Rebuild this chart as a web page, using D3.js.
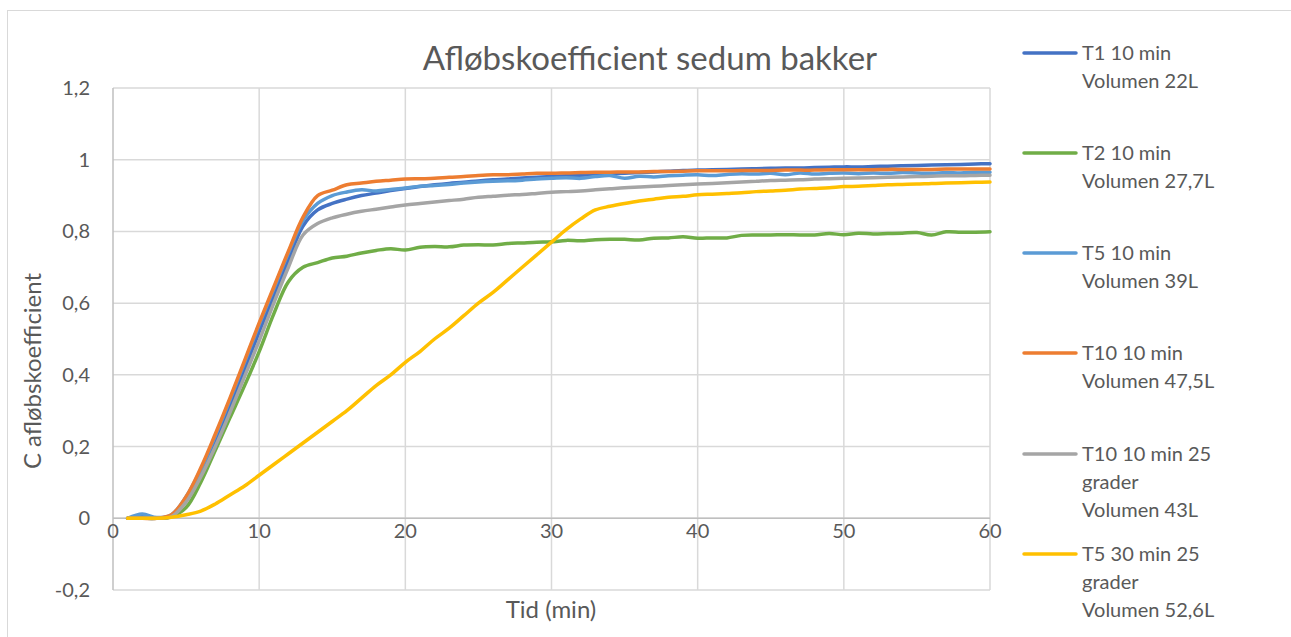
<!DOCTYPE html>
<html>
<head>
<meta charset="utf-8">
<script src="https://cdn.jsdelivr.net/npm/d3@7"></script>
<style>
  body { margin: 0; background: #fff; }
  text { font-family: Lato, "Open Sans", sans-serif; fill: #595959; }
</style>
</head>
<body>
<svg id="chart" width="1291" height="637"></svg>
<script>
// minutes
var minutes = [1,2,3,4,5,6,7,8,9,10,11,12,13,14,15,16,17,18,19,20,
  21,22,23,24,25,26,27,28,29,30,31,32,33,34,35,36,37,38,39,40,
  41,42,43,44,45,46,47,48,49,50,51,52,53,54,55,56,57,58,59,60];

var t1 = [0,0.005,0,0.005,0.05,0.12,0.21,0.31,0.415,0.52,0.62,0.72,0.815,0.86,0.878,0.89,0.9,0.907,0.914,0.92,
  0.925,0.93,0.934,0.937,0.941,0.944,0.946,0.949,0.951,0.953,0.955,0.957,0.959,0.961,0.962,0.964,0.966,0.968,0.97,0.971,
  0.972,0.973,0.974,0.975,0.976,0.977,0.977,0.978,0.979,0.98,0.98,0.981,0.982,0.983,0.984,0.985,0.986,0.987,0.988,0.989];

var t2 = [0,0,0,0.005,0.03,0.1,0.19,0.28,0.37,0.465,0.57,0.66,0.7,0.713,0.726,0.731,0.74,0.747,0.752,0.748,
  0.756,0.758,0.757,0.762,0.763,0.762,0.766,0.768,0.77,0.771,0.775,0.774,0.777,0.778,0.778,0.776,0.781,0.782,0.785,0.781,
  0.782,0.782,0.789,0.79,0.79,0.791,0.79,0.79,0.794,0.791,0.795,0.793,0.794,0.795,0.797,0.79,0.799,0.798,0.798,0.799];

var t5 = [0,0.012,0.002,0.01,0.06,0.135,0.23,0.33,0.435,0.54,0.64,0.74,0.83,0.878,0.9,0.91,0.916,0.913,0.917,0.921,
  0.926,0.928,0.931,0.935,0.938,0.94,0.941,0.943,0.946,0.948,0.95,0.948,0.953,0.956,0.948,0.954,0.952,0.955,0.957,0.958,
  0.956,0.959,0.961,0.96,0.962,0.958,0.963,0.96,0.962,0.963,0.961,0.963,0.962,0.964,0.963,0.962,0.964,0.963,0.965,0.965];

var t10 = [0,0,0,0.01,0.06,0.14,0.235,0.335,0.44,0.545,0.645,0.745,0.84,0.9,0.915,0.93,0.935,0.94,0.943,0.946,
  0.947,0.948,0.951,0.953,0.956,0.958,0.958,0.96,0.962,0.962,0.963,0.964,0.965,0.965,0.966,0.966,0.967,0.967,0.968,0.969,
  0.969,0.969,0.97,0.97,0.97,0.971,0.971,0.971,0.972,0.972,0.972,0.972,0.973,0.973,0.973,0.973,0.974,0.974,0.974,0.974];

var t10g25 = [0,0,0,0.005,0.045,0.115,0.2,0.295,0.395,0.495,0.6,0.7,0.79,0.822,0.838,0.848,0.856,0.862,0.868,0.874,
  0.878,0.882,0.886,0.89,0.895,0.898,0.901,0.903,0.906,0.909,0.911,0.913,0.916,0.919,0.922,0.924,0.926,0.928,0.93,0.932,
  0.934,0.936,0.938,0.94,0.942,0.943,0.944,0.946,0.947,0.948,0.949,0.95,0.951,0.952,0.953,0.954,0.955,0.955,0.956,0.957];

var t5g25 = [0,0,0,0.003,0.01,0.02,0.04,0.065,0.09,0.12,0.15,0.18,0.21,0.24,0.27,0.3,0.335,0.37,0.4,0.435,
  0.465,0.5,0.53,0.565,0.6,0.63,0.665,0.7,0.735,0.77,0.805,0.835,0.86,0.87,0.878,0.885,0.89,0.895,0.898,0.902,
  0.904,0.906,0.908,0.911,0.913,0.915,0.918,0.92,0.922,0.925,0.926,0.928,0.93,0.931,0.932,0.934,0.935,0.936,0.937,0.938];

var seriesNames = [
  ["T1 10 min", "Volumen 22L"],
  ["T2 10 min", "Volumen 27,7L"],
  ["T5 10 min", "Volumen 39L"],
  ["T10 10 min", "Volumen 47,5L"],
  ["T10 10 min 25", "grader", "Volumen 43L"],
  ["T5 30 min 25", "grader", "Volumen 52,6L"]
];
var seriesValues = [t1, t2, t5, t10, t10g25, t5g25];
var seriesColors = ["#4472C4", "#70AD47", "#5B9BD5", "#ED7D31", "#A5A5A5", "#FFC000"];

var xTicks = [0, 10, 20, 30, 40, 50, 60];
var yTicks = [-0.2, 0, 0.2, 0.4, 0.6, 0.8, 1, 1.2];

var svg = d3.select("#chart");

// chart border
svg.append("rect")
  .attr("x", 7.5).attr("y", 10.5)
  .attr("width", 1300).attr("height", 640)
  .attr("fill", "none")
  .attr("stroke", "#d9d9d9")
  .attr("stroke-width", 1);

var x = d3.scaleLinear().domain([0, 60]).range([113, 990]);
var y = d3.scaleLinear().domain([-0.2, 1.2]).range([590, 88]);

// gridlines
svg.append("g").selectAll("line.h")
  .data(yTicks)
  .enter().append("line")
    .attr("x1", x(0)).attr("x2", x(60))
    .attr("y1", d => y(d)).attr("y2", d => y(d))
    .attr("stroke", "#d9d9d9")
    .attr("stroke-width", 1.5);

svg.append("g").selectAll("line.v")
  .data(xTicks.slice(1))
  .enter().append("line")
    .attr("x1", d => x(d)).attr("x2", d => x(d))
    .attr("y1", y(-0.2)).attr("y2", y(1.2))
    .attr("stroke", "#d9d9d9")
    .attr("stroke-width", 1.5);

// axis lines
svg.append("line")
  .attr("x1", x(0)).attr("x2", x(0))
  .attr("y1", y(-0.2)).attr("y2", y(1.2))
  .attr("stroke", "#bfbfbf").attr("stroke-width", 1.5);
svg.append("line")
  .attr("x1", x(0)).attr("x2", x(60))
  .attr("y1", y(0)).attr("y2", y(0))
  .attr("stroke", "#bfbfbf").attr("stroke-width", 1.5);

// tick labels
var fmt = d => String(d3.format(".1~f")(d)).replace(".", ",").replace("−", "-");
svg.append("g").selectAll("text")
  .data(yTicks)
  .enter().append("text")
    .attr("x", 90)
    .attr("y", d => y(d) + 7)
    .attr("text-anchor", "end")
    .style("font-size", "20px")
    .text(fmt);

svg.append("g").selectAll("text")
  .data(xTicks)
  .enter().append("text")
    .attr("x", d => x(d))
    .attr("y", y(0) + 20)
    .attr("text-anchor", "middle")
    .style("font-size", "20px")
    .text(d => d);

// titles
svg.append("text")
  .attr("x", 650).attr("y", 70)
  .attr("text-anchor", "middle")
  .style("font-size", "33px")
  .text("Afløbskoefficient sedum bakker");

svg.append("text")
  .attr("x", 551).attr("y", 618)
  .attr("text-anchor", "middle")
  .style("font-size", "24px")
  .text("Tid (min)");

svg.append("text")
  .attr("transform", "translate(41,371) rotate(-90)")
  .attr("text-anchor", "middle")
  .style("font-size", "24px")
  .text("C afløbskoefficient");

// series lines
var line = d3.line()
  .x((d, i) => x(minutes[i]))
  .y(d => y(d))
  .curve(d3.curveCatmullRom.alpha(0.5));

svg.append("g").selectAll("path")
  .data(seriesValues)
  .enter().append("path")
    .attr("d", d => line(d))
    .attr("fill", "none")
    .attr("stroke", (d, i) => seriesColors[i])
    .attr("stroke-width", 3.5)
    .attr("stroke-linejoin", "round")
    .attr("stroke-linecap", "round");

// legend
var legendY = [53, 153, 253, 353, 454, 554];
var legend = svg.append("g").selectAll("g")
  .data(seriesNames)
  .enter().append("g")
    .attr("transform", (d, i) => "translate(0," + legendY[i] + ")");

legend.append("line")
  .attr("x1", 1024).attr("x2", 1076)
  .attr("y1", 0).attr("y2", 0)
  .attr("stroke", (d, i) => seriesColors[i])
  .attr("stroke-width", 3.5)
  .attr("stroke-linecap", "round");

legend.each(function(d) {
  var g = d3.select(this);
  d.forEach((s, j) => {
    g.append("text")
      .attr("x", 1082)
      .attr("y", 7 + j * 28)
      .style("font-size", "20px")
      .text(s);
  });
});
</script>
</body>
</html>
